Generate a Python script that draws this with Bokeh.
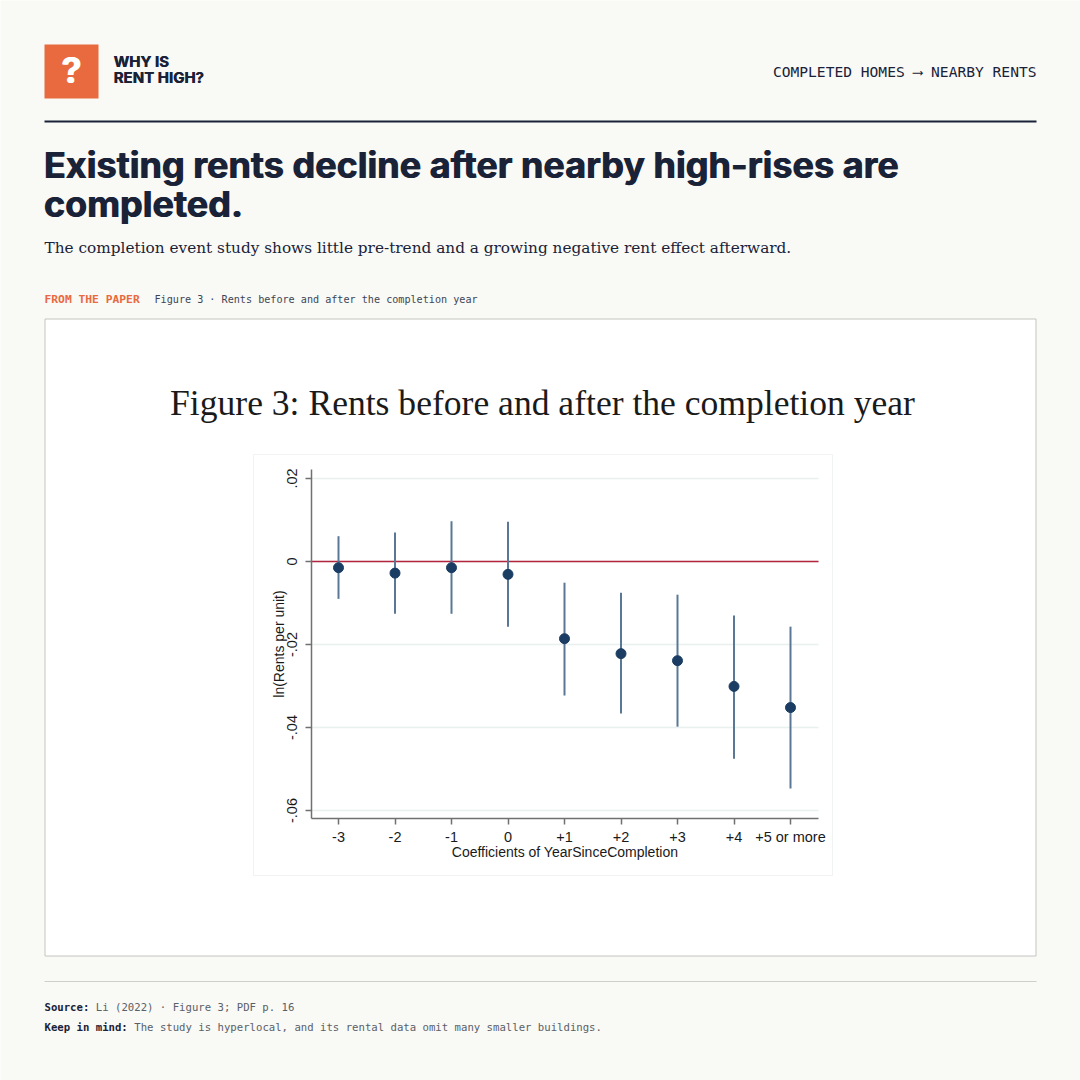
from bokeh.plotting import figure
from bokeh.models import Range1d, LinearAxis, FixedTicker
from bokeh.core.properties import value
from bokeh.embed import file_html
from bokeh.resources import INLINE

# ---------------- data ----------------
categories = ["-3", "-2", "-1", "0", "+1", "+2", "+3", "+4", "+5 or more"]
cat_pos = [1, 2, 3, 4, 5, 6, 7, 8, 9]
coef = [-0.0015, -0.0028, -0.0015, -0.0031, -0.0186, -0.0222, -0.0239, -0.0301, -0.0352]
ci_hi = [0.0061, 0.0070, 0.0097, 0.0096, -0.0051, -0.0075, -0.0080, -0.0130, -0.0157]
ci_lo = [-0.0090, -0.0126, -0.0126, -0.0157, -0.0323, -0.0366, -0.0398, -0.0475, -0.0547]
y_ticks = [0.02, 0.0, -0.02, -0.04, -0.06]
y_tick_labels = [".02", "0", "-.02", "-.04", "-.06"]

brand_lines = ["WHY IS", "RENT HIGH?"]
kicker = "COMPLETED HOMES \u27f6 NEARBY RENTS"
title_lines = ["Existing rents decline after nearby high-rises are", "completed."]
subtitle = "The completion event study shows little pre-trend and a growing negative rent effect afterward."
from_label = "FROM THE PAPER"
from_text = "Figure 3 \u00b7 Rents before and after the completion year"
fig_title = "Figure 3: Rents before and after the completion year"
x_title = "Coefficients of YearSinceCompletion"
y_title = "ln(Rents per unit)"
source_label = "Source:"
source_text = "Li (2022) \u00b7 Figure 3; PDF p. 16"
note_label = "Keep in mind:"
note_text = "The study is hyperlocal, and its rental data omit many smaller buildings."

# ---------------- layout constants (page pixels) ----------------
W = H = 1080
OFF = 0
X_UNIT = 56.5      # px per category step
X_FIRST = 338      # page x of first category
Y_UNIT = 4150.0    # px per unit of ln rent
Y_ZERO = 561       # page y of zero
AX_L, AX_R, AX_T, AX_B = 311, 818, 469, 818
BASE_CORR = 0.37   # baseline correction (fraction of font size)


def dx(px):
    return 1 + (px - X_FIRST) / X_UNIT


def dy(py):
    return (Y_ZERO - py) / Y_UNIT


BG = "#f9f9f5"
NAVY = "#1a2238"
ORANGE = "#e86a3e"

p = figure(width=W, height=H,
           x_range=Range1d(dx(OFF), dx(OFF + W)),
           y_range=Range1d(dy(OFF + H), dy(OFF)),
           output_backend="svg", toolbar_location=None,
           x_axis_type=None, y_axis_type=None, min_border=0,
           background_fill_color=BG, border_fill_color=BG,
           outline_line_color=None)
p.extra_x_ranges = {"px": Range1d(OFF, OFF + W)}
p.extra_y_ranges = {"px": Range1d(OFF + H, OFF)}
PX = dict(x_range_name="px", y_range_name="px")


def txt(x, y, t, font, size, color, style="normal", align="left", heavy=0.0):
    yy = y - BASE_CORR * size
    offs = [0.0] if heavy == 0 else [0.0, heavy]
    for o in offs:
        p.text(x=[x + o], y=[yy], text=[t], text_font=value(font),
               text_font_size=f"{size}px", text_color=color,
               text_font_style=style, text_align=align,
               text_baseline="alphabetic", **PX)


# ---------------- header ----------------
p.quad(left=[44], right=[98], top=[44], bottom=[98], fill_color=ORANGE, line_color=None, **PX)
txt(70.5, 83, "?", "Inter", 36, "white", "bold", "center", heavy=1.0)
txt(113, 67, brand_lines[0], "Inter", 15, NAVY, "bold", heavy=0.5)
txt(113, 83, brand_lines[1], "Inter", 15, NAVY, "bold", heavy=0.5)
txt(1036, 76, kicker, "DejaVu Sans Mono", 14.6, NAVY, "normal", "right")
p.segment(x0=[44], x1=[1036], y0=[121], y1=[121], line_color=NAVY, line_width=2, **PX)

txt(43, 178, title_lines[0], "Inter", 36, NAVY, "bold", heavy=0.9)
txt(43, 217, title_lines[1], "Inter", 36, NAVY, "bold", heavy=0.9)
txt(44, 253, subtitle, "DejaVu Serif", 15.3, NAVY)

txt(44, 303, from_label, "DejaVu Sans Mono", 11.3, ORANGE, "bold")
txt(154, 303, from_text, "DejaVu Sans Mono", 10.15, "#3c4656")

# ---------------- card ----------------
p.quad(left=[44.5], right=[1035.5], top=[318.5], bottom=[955.5], fill_color="white",
       line_color="#c4c4c0", line_width=1, **PX)
p.quad(left=[253], right=[832], top=[454], bottom=[875], fill_color="white",
       line_color="#f1f3f3", line_width=1, **PX)
txt(542, 416, fig_title, "Liberation Serif", 35.6, "#1a1a1a", "normal", "center")

# ---------------- chart (data coordinates) ----------------
x_lo, x_hi = dx(AX_L), dx(AX_R)
p.segment(x0=[x_lo] * len(y_ticks), x1=[x_hi] * len(y_ticks), y0=y_ticks, y1=y_ticks,
          line_color="#e8f0f0", line_width=1.5)
p.segment(x0=[x_lo], x1=[x_hi], y0=[0], y1=[0], line_color="#b3243f", line_width=1.5)
p.segment(x0=cat_pos, x1=cat_pos, y0=ci_lo, y1=ci_hi, line_color="#5a7896", line_width=2)
p.scatter(x=cat_pos, y=coef, size=10, fill_color="#1b3d63", line_color="#1b3d63")

yaxis = LinearAxis(fixed_location=x_lo, bounds=(dy(AX_B), dy(AX_T)),
                   ticker=FixedTicker(ticks=y_ticks),
                   major_label_overrides={t: l for t, l in zip(y_ticks, y_tick_labels)},
                   major_label_orientation="parallel",
                   axis_label=y_title)
xaxis = LinearAxis(fixed_location=dy(AX_B), bounds=(x_lo, x_hi),
                   ticker=FixedTicker(ticks=cat_pos),
                   major_label_overrides={c: l for c, l in zip(cat_pos, categories)},
                   axis_label=x_title)
for ax in (yaxis, xaxis):
    ax.axis_line_color = "#707070"
    ax.axis_line_width = 1.5
    ax.major_tick_line_color = "#707070"
    ax.major_tick_line_width = 1.5
    ax.major_tick_out = 6
    ax.major_tick_in = 0
    ax.minor_tick_line_color = None
    ax.major_label_text_font = "Liberation Sans"
    ax.major_label_text_font_size = "14.5px"
    ax.major_label_text_color = "#1a1a1a"
    ax.axis_label_text_font = "Liberation Sans"
    ax.axis_label_text_font_size = "14px"
    ax.axis_label_text_font_style = "normal"
    ax.axis_label_text_color = "#1a1a1a"
yaxis.major_label_standoff = 9
yaxis.axis_label_standoff = -3
xaxis.major_label_standoff = 4
xaxis.axis_label_standoff = -4
p.add_layout(yaxis, "left")
p.add_layout(xaxis, "below")

# ---------------- footer ----------------
p.segment(x0=[44], x1=[1036], y0=[981], y1=[981], line_color="#cfcfca", line_width=1, **PX)
FS = 10.65
CH = FS * 0.602
txt(44, 1011, source_label, "DejaVu Sans Mono", FS, NAVY, "bold")
txt(44 + CH * (len(source_label) + 1), 1011, source_text, "DejaVu Sans Mono", FS, "#5a6068")
txt(44, 1031, note_label, "DejaVu Sans Mono", FS, NAVY, "bold")
txt(44 + CH * (len(note_label) + 1), 1031, note_text, "DejaVu Sans Mono", FS, "#5a6068")

open("out.html", "w").write(file_html(p, INLINE))
